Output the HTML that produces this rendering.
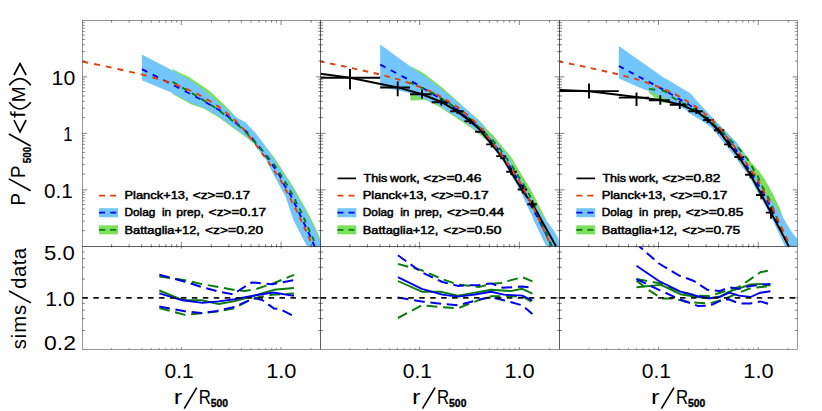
<!DOCTYPE html>
<html><head><meta charset="utf-8"><title>Pressure profiles</title>
<style>
html,body{margin:0;padding:0;background:#fff;}
body{width:822px;height:411px;overflow:hidden;}
svg{display:block;}
text{font-family:"Liberation Sans",sans-serif;fill:#000;}
.tk{font-size:20px;}
.ax{font-size:20px;letter-spacing:1.6px;}
.ax2{font-size:20px;letter-spacing:1.7px;}
.sub{font-size:10.5px;font-weight:bold;letter-spacing:-0.3px;}
.lg{font-size:11.3px;stroke:#000;stroke-width:0.5px;}
</style></head><body>
<svg width="822" height="411" viewBox="0 0 822 411">
<defs>
<clipPath id="cu0"><rect x="82.40" y="20.40" width="238.30" height="226.00"/></clipPath>
<clipPath id="cl0"><rect x="82.40" y="246.40" width="238.30" height="102.90"/></clipPath>
<clipPath id="cu1"><rect x="320.70" y="20.40" width="238.90" height="226.00"/></clipPath>
<clipPath id="cl1"><rect x="320.70" y="246.40" width="238.90" height="102.90"/></clipPath>
<clipPath id="cu2"><rect x="559.60" y="20.40" width="237.90" height="226.00"/></clipPath>
<clipPath id="cl2"><rect x="559.60" y="246.40" width="237.90" height="102.90"/></clipPath>
</defs>
<rect width="822" height="411" fill="#fff"/>
<g clip-path="url(#cu0)">
<polygon points="172.5,69.2 189.0,77.0 206.5,88.7 210.8,92.0 224.0,104.5 236.4,117.2 250.0,130.0 268.4,150.0 275.9,160.0 293.4,187.0 307.3,211.5 311.6,220.0 315.8,228.5 320.2,238.8 320.7,246.4 308.0,246.4 298.0,220.0 288.0,195.0 275.0,172.0 263.3,156.0 254.6,144.5 247.3,138.3 234.2,128.8 219.6,117.9 204.6,109.0 191.0,104.2 172.5,94.1" fill="#7be05c"/>
<polygon points="141.9,54.6 172.5,70.5 189.0,79.4 206.5,92.0 213.8,98.5 226.9,109.6 236.4,117.6 245.1,122.0 256.1,133.7 265.0,145.4 274.6,160.0 292.0,187.0 305.8,211.5 310.2,220.0 314.6,228.5 320.7,242.0 320.7,246.4 307.3,246.4 303.6,240.0 293.4,220.0 285.4,196.2 273.2,174.3 266.4,160.0 261.9,155.0 254.6,143.9 247.3,137.3 234.2,127.8 219.6,116.9 205.0,108.2 191.0,103.0 172.5,92.9 141.9,80.3" fill="#73c6fb"/>
<path d="M141.90,69.20L147.24,71.89M152.61,74.61L157.95,77.30M163.32,80.01L168.66,82.71M174.03,85.43L179.32,88.19M184.65,90.97L189.94,93.73M195.26,96.51L200.55,99.28M205.72,102.26L210.80,105.20L210.86,105.23M216.03,108.21L220.00,110.50L221.06,111.29M225.77,114.80L230.44,118.28M234.99,121.93L238.60,124.90L239.43,125.63M243.80,129.44L247.30,132.50L248.00,133.32M251.68,137.63L252.00,138.00L255.20,141.99M258.72,146.40L262.22,150.77M265.66,155.22L268.86,159.75M272.09,164.32L273.70,166.60L275.23,168.89M278.32,173.52L279.50,175.30L281.00,178.29M283.45,183.20L284.60,185.50L286.13,187.97M289.06,192.68L290.50,195.00L291.72,197.46M294.15,202.37L295.60,205.30L296.52,207.27M298.84,212.22L300.00,214.70L301.15,217.14M303.49,222.08L305.82,226.99M308.16,231.94L310.48,236.85M312.65,241.85L314.50,246.40" fill="none" stroke="#0000ee" stroke-width="1.9" stroke-linejoin="round"/>
<path d="M172.50,81.80L177.36,84.65M182.15,87.46L187.01,90.31M191.79,93.12L195.00,95.00L196.63,96.00M201.34,98.90L206.13,101.84M210.84,104.73L211.60,105.20L215.41,107.92M219.87,111.09L220.30,111.40L224.29,114.43M228.62,117.73L229.10,118.10L232.98,121.13M237.26,124.47L237.80,124.90L241.31,128.13M245.26,131.77L246.60,133.00L249.02,135.65M252.58,139.56L253.90,141.00L256.21,143.53M259.78,147.44L261.20,149.00L263.25,151.52M266.57,155.58L269.98,159.70M273.34,163.74L274.80,165.50L276.43,168.03M279.22,172.37L280.20,173.90L282.01,176.82M284.73,181.19L286.10,183.40L287.40,185.69M289.94,190.15L291.90,193.60L292.46,194.71M294.76,199.26L296.70,203.10L297.09,203.89M299.35,208.45L301.40,212.60L301.63,213.11M303.70,217.74L305.81,222.45M307.88,227.07L309.99,231.78M312.07,236.41L313.00,238.50L314.01,241.17M315.81,245.89L316.00,246.40" fill="none" stroke="#0a7d0a" stroke-width="1.9" stroke-linejoin="round"/>
<path d="M82.40,61.50L88.23,62.72M94.10,63.95L99.93,65.17M105.81,66.41L111.50,67.60L111.63,67.63M117.48,68.96L123.28,70.28M129.13,71.61L134.92,72.92M140.77,74.25L142.30,74.60L146.51,75.74M152.28,77.31L158.00,78.86M163.69,80.61L169.29,82.45M174.90,84.38L180.36,86.50M185.85,88.67L191.18,91.02M196.56,93.39L196.80,93.50L201.55,96.23M206.57,99.12L207.40,99.60L211.41,102.15M216.26,105.24L218.40,106.60L220.91,108.48M225.45,111.89L226.40,112.60L229.74,115.47M234.01,119.14L234.20,119.30L237.85,123.08M241.70,127.07L242.40,127.80L245.14,131.26M248.53,135.55L250.00,137.40L251.89,139.80M255.28,144.08L256.40,145.50L258.54,148.39M261.78,152.75L262.70,154.00L264.88,157.14M267.98,161.58L271.05,165.99M274.08,170.46L277.09,174.90M280.12,179.38L280.20,179.50L282.64,184.03M285.17,188.73L286.40,191.00L287.65,193.40M290.11,198.12L292.55,202.81M295.01,207.53L296.30,210.00L297.34,212.25M299.57,217.06L301.78,221.83M304.00,226.64L304.40,227.50L306.20,231.41M308.42,236.22L309.70,239.00L310.59,241.00M312.75,245.83L313.00,246.40" fill="none" stroke="#e0400a" stroke-width="1.9" stroke-linejoin="round"/>
</g>
<g clip-path="url(#cl0)">
<polyline points="159.3,290.5 179.2,298.6 185.0,300.2 201.5,300.2 218.8,304.0 234.7,301.1 250.0,297.0 273.8,289.8 294.0,288.0" fill="none" stroke="#0a7d0a" stroke-width="1.9" stroke-linejoin="round" stroke-linecap="butt"/>
<path d="M159.30,276.50L169.95,278.03M175.57,278.84L185.00,280.20L186.20,280.47M191.70,281.74L201.10,283.90L202.14,284.09M207.72,285.11L218.28,287.04M223.85,288.05L234.42,289.95M240.09,290.49L244.60,290.90L250.75,289.90M256.35,288.98L266.42,285.65M271.73,283.89L273.80,283.20L281.52,279.99M286.64,277.86L294.00,274.80" fill="none" stroke="#0a7d0a" stroke-width="2.0" stroke-linejoin="round"/>
<path d="M159.30,308.10L169.62,310.83M175.06,312.27L185.00,314.90L185.39,314.86M191.05,314.26L201.10,313.20L201.77,313.13M207.42,312.49L217.20,311.40L218.12,311.23M223.69,310.22L233.20,308.50L234.13,308.03M239.05,305.57L248.38,300.91M253.60,298.98L259.20,297.00L263.85,296.22M269.44,295.28L272.30,294.80L280.17,294.29M285.85,293.93L294.00,293.40" fill="none" stroke="#0a7d0a" stroke-width="2.0" stroke-linejoin="round"/>
<polyline points="159.3,293.3 182.5,300.3 202.5,302.9 218.6,301.4 234.7,299.2 250.5,296.1 273.3,292.5 294.0,295.9" fill="none" stroke="#0000ee" stroke-width="1.9" stroke-linejoin="round" stroke-linecap="butt"/>
<path d="M159.30,274.80L169.60,277.57M175.04,279.03L185.00,281.70L185.34,281.81M190.68,283.50L200.81,286.71M206.24,288.20L216.52,291.01M222.06,292.17L232.57,294.27M237.12,291.67L238.80,290.50L245.79,286.18M250.41,283.32L251.90,282.40L260.82,283.19M266.49,283.69L272.30,284.20L277.14,283.31M282.72,282.28L293.27,280.33" fill="none" stroke="#0000ee" stroke-width="2.0" stroke-linejoin="round"/>
<path d="M159.30,306.40L169.84,308.41M175.40,309.47L185.00,311.30L185.96,311.41M191.61,312.04L201.10,313.10L202.32,312.93M207.94,312.16L217.20,310.90L218.58,310.59M224.09,309.35L233.20,307.30L234.43,306.76M239.51,304.55L249.00,300.40L249.12,300.33M253.93,298.03L262.10,300.00L263.87,301.27M268.24,304.41L273.80,308.40L277.31,308.76M282.53,310.46L291.85,315.13" fill="none" stroke="#0000ee" stroke-width="2.0" stroke-linejoin="round"/>
</g>
<line x1="82.40" y1="297.85" x2="320.70" y2="297.85" stroke="#111" stroke-width="1.7" stroke-dasharray="5.5 5.45" stroke-dashoffset="0.0"/>
<g clip-path="url(#cu1)">
<polygon points="410.4,66.2 423.2,72.8 441.5,86.9 457.3,101.0 465.0,107.9 480.0,120.9 488.2,130.5 493.0,135.0 501.9,146.0 510.1,155.5 513.1,160.0 515.8,165.0 524.7,179.5 531.0,190.0 539.0,205.5 546.3,220.0 547.5,222.5 553.0,234.0 559.6,246.4 552.0,246.4 548.0,235.0 532.0,205.0 511.0,172.0 492.0,145.0 476.0,131.6 464.1,122.9 451.0,114.6 440.0,107.2 432.0,103.0 426.0,100.0 410.4,100.4" fill="#7be05c"/>
<polygon points="380.2,44.6 410.4,66.6 424.0,75.5 447.3,93.8 468.7,111.2 483.0,125.2 486.5,131.7 499.7,146.0 507.0,155.0 510.2,160.0 515.3,170.0 521.0,178.4 527.5,190.0 536.0,205.0 542.5,216.0 549.3,224.4 554.4,231.2 558.2,238.0 559.6,243.1 559.6,246.4 546.3,246.4 533.5,220.0 531.8,215.0 526.7,205.0 520.0,190.0 509.3,171.7 502.3,160.0 499.5,156.2 490.3,144.5 482.3,135.0 478.8,132.2 472.0,127.3 464.1,121.5 451.0,113.2 440.0,105.8 430.0,101.5 410.4,93.3 380.2,86.4" fill="#73c6fb"/>
<path d="M380.20,64.60L385.47,67.39M390.84,70.24L396.11,73.03M401.49,75.87L406.76,78.66M412.13,81.51L412.30,81.60L417.19,84.57M422.34,87.69L427.40,90.76M432.55,93.89L437.61,96.95M442.63,100.23L447.30,103.40L447.49,103.52M452.56,106.75L456.40,109.20L457.43,110.02M462.06,113.70L465.20,116.20L466.57,117.33M471.13,121.07L473.60,123.10L475.40,124.90M479.51,129.01L482.00,131.50L483.50,133.07M487.50,137.25L490.90,140.80L491.38,141.38M495.05,145.78L497.90,149.20L498.57,150.13M501.87,154.74L504.50,158.40L505.06,159.28M508.10,164.02L510.20,167.30L511.06,168.68M514.04,173.44L516.40,177.20L516.95,178.12M519.84,182.92L522.30,187.00L522.60,187.66M524.85,192.71L527.07,197.66M529.32,202.71L529.50,203.10L531.98,207.49M534.72,212.36L535.70,214.10L537.34,217.16M539.97,222.08L540.30,222.70L542.52,226.90M545.11,231.83L547.38,236.76M549.70,241.79L549.70,241.80L551.80,246.40" fill="none" stroke="#0000ee" stroke-width="1.9" stroke-linejoin="round"/>
<path d="M410.40,82.50L413.75,84.04M419.07,86.49L424.36,88.92M429.68,91.37L431.70,92.30L434.68,94.19M439.53,97.28L444.35,100.34M449.20,103.42L450.90,104.50L453.86,106.65M458.47,110.00L461.90,112.50L462.98,113.38M467.38,116.93L469.20,118.40L471.60,120.57M475.74,124.34L479.86,128.07M483.93,131.89L487.97,135.69M492.05,139.51L493.10,140.50L495.65,143.60M499.14,147.82L499.70,148.50L502.27,152.19M505.37,156.64L506.60,158.40L508.46,161.03M511.59,165.46L512.40,166.60L514.44,169.97M517.21,174.56L517.90,175.70L520.04,179.09M522.92,183.63L524.10,185.50L525.62,188.21M528.24,192.87L529.10,194.40L530.64,197.57M532.97,202.34L534.60,205.70L535.19,207.11M537.21,211.98L539.22,216.81M541.14,221.72L542.50,225.20L543.13,226.55M545.39,231.35L547.10,235.00L547.57,236.13M549.59,241.00L551.00,244.40L551.70,245.80" fill="none" stroke="#0a7d0a" stroke-width="1.9" stroke-linejoin="round"/>
<polyline points="320.7,73.8 350.0,77.7 397.7,87.4 422.0,94.2 442.2,102.3 457.2,111.4 469.2,120.5 482.4,131.7 484.0,135.0 492.0,144.5 501.2,156.2 504.0,160.0 511.0,171.7 521.9,190.0 532.4,204.2 538.6,215.0 541.2,220.0 547.1,230.3 556.1,246.4" fill="none" stroke="#000" stroke-width="2.0" stroke-linejoin="round" stroke-linecap="butt"/>
<line x1="320.70" y1="77.70" x2="380.20" y2="77.70" stroke="#000" stroke-width="1.9"/>
<line x1="350.00" y1="68.90" x2="350.00" y2="89.40" stroke="#000" stroke-width="1.9"/>
<line x1="380.20" y1="87.50" x2="410.00" y2="87.50" stroke="#000" stroke-width="1.9"/>
<line x1="397.70" y1="81.60" x2="397.70" y2="96.20" stroke="#000" stroke-width="1.9"/>
<line x1="410.00" y1="94.20" x2="431.70" y2="94.20" stroke="#000" stroke-width="1.9"/>
<line x1="422.00" y1="89.40" x2="422.00" y2="98.50" stroke="#000" stroke-width="1.9"/>
<line x1="431.70" y1="102.20" x2="449.60" y2="102.20" stroke="#000" stroke-width="1.9"/>
<line x1="441.30" y1="98.50" x2="441.30" y2="105.50" stroke="#000" stroke-width="1.9"/>
<line x1="450.20" y1="111.20" x2="463.70" y2="111.20" stroke="#000" stroke-width="1.9"/>
<line x1="457.40" y1="108.60" x2="457.40" y2="113.80" stroke="#000" stroke-width="1.9"/>
<line x1="464.50" y1="121.30" x2="475.10" y2="121.30" stroke="#000" stroke-width="1.9"/>
<line x1="470.30" y1="118.50" x2="470.30" y2="124.00" stroke="#000" stroke-width="1.9"/>
<line x1="475.10" y1="131.70" x2="485.00" y2="131.70" stroke="#000" stroke-width="1.9"/>
<line x1="482.40" y1="128.60" x2="482.40" y2="134.60" stroke="#000" stroke-width="1.9"/>
<line x1="486.20" y1="144.40" x2="494.50" y2="144.40" stroke="#000" stroke-width="1.9"/>
<line x1="491.70" y1="141.20" x2="491.70" y2="147.50" stroke="#000" stroke-width="1.9"/>
<line x1="496.20" y1="156.10" x2="505.90" y2="156.10" stroke="#000" stroke-width="1.9"/>
<line x1="501.20" y1="152.80" x2="501.20" y2="159.30" stroke="#000" stroke-width="1.9"/>
<line x1="506.20" y1="171.70" x2="516.80" y2="171.70" stroke="#000" stroke-width="1.9"/>
<line x1="511.30" y1="168.20" x2="511.30" y2="175.20" stroke="#000" stroke-width="1.9"/>
<line x1="517.70" y1="189.50" x2="527.20" y2="189.50" stroke="#000" stroke-width="1.9"/>
<line x1="522.90" y1="185.00" x2="522.90" y2="193.50" stroke="#000" stroke-width="1.9"/>
<line x1="527.30" y1="204.20" x2="536.80" y2="204.20" stroke="#000" stroke-width="1.9"/>
<line x1="532.40" y1="200.20" x2="532.40" y2="208.40" stroke="#000" stroke-width="1.9"/>
<path d="M320.70,61.50L324.56,62.31M330.05,63.46L335.49,64.60M340.98,65.75L346.42,66.89M351.89,68.08L357.30,69.31M362.76,70.55L368.18,71.78M373.64,73.02L379.05,74.25M384.45,75.65L389.79,77.09M395.18,78.55L398.30,79.40L400.47,80.11M405.74,81.84L410.97,83.56M416.13,85.52L421.23,87.50M426.30,89.62L431.28,91.82M436.22,94.15L440.87,96.82M445.56,99.52L445.70,99.60L450.05,102.37M454.58,105.25L454.88,105.44L456.70,106.60L459.21,108.48M463.75,111.89L464.70,112.60L468.04,115.47M472.31,119.14L472.50,119.30L476.15,123.08M480.00,127.07L480.70,127.80L483.44,131.26M486.83,135.55L488.30,137.40L490.19,139.80M493.58,144.08L494.70,145.50L496.84,148.39M500.08,152.75L501.00,154.00L503.18,157.14M506.28,161.58L509.35,165.99M512.38,170.46L515.39,174.90M518.42,179.38L518.50,179.50L520.94,184.03M523.47,188.73L524.70,191.00L525.95,193.40M528.41,198.12L530.85,202.81M533.31,207.53L534.60,210.00L535.64,212.25M537.87,217.06L540.08,221.83M542.30,226.64L542.70,227.50L544.50,231.41M546.72,236.22L548.00,239.00L548.89,241.00M551.05,245.83L551.30,246.40" fill="none" stroke="#e0400a" stroke-width="1.9" stroke-linejoin="round"/>
</g>
<g clip-path="url(#cl1)">
<polyline points="397.9,281.0 421.8,291.7 440.3,291.7 457.8,295.6 475.0,292.6 491.1,289.8 510.6,291.1 522.3,288.8 532.4,293.7" fill="none" stroke="#0a7d0a" stroke-width="1.9" stroke-linejoin="round" stroke-linecap="butt"/>
<path d="M397.90,263.90L408.21,266.66M413.65,268.12L421.80,270.30L423.81,271.16M428.91,273.35L438.56,277.49M443.70,279.59L453.70,283.07M459.07,284.64L469.78,285.82M475.43,286.45L479.50,286.90L485.91,285.24M491.37,283.87L500.90,283.00L502.06,282.68M507.49,281.18L517.76,278.35M523.14,277.46L532.40,281.40" fill="none" stroke="#0a7d0a" stroke-width="2.0" stroke-linejoin="round"/>
<path d="M397.90,318.00L407.07,313.13M411.91,310.55L421.08,305.68M426.63,305.77L437.36,306.82M443.02,307.35L453.79,308.04M459.33,307.71L469.17,303.90M474.36,301.89L479.50,299.90L484.33,298.36M489.67,296.66L491.10,296.20L500.38,296.20M506.08,296.20L516.88,296.20M522.52,296.34L531.30,301.72" fill="none" stroke="#0a7d0a" stroke-width="2.0" stroke-linejoin="round"/>
<polyline points="397.9,277.1 421.8,288.8 442.3,294.6 457.8,296.6 475.0,294.5 491.1,291.7 503.8,294.6 522.3,295.6 532.4,300.5" fill="none" stroke="#0000ee" stroke-width="1.9" stroke-linejoin="round" stroke-linecap="butt"/>
<path d="M397.90,255.30L406.20,261.20M410.58,264.32L418.88,270.23M423.47,273.09L432.92,277.56M437.90,279.92L442.30,282.00L447.84,283.39M453.31,284.77L457.80,285.90L463.91,285.62M469.60,285.36L479.50,284.90L480.38,284.79M486.01,284.06L491.10,283.40L496.27,285.35M501.49,287.31L502.80,287.80L512.14,287.18M517.83,286.80L522.30,286.50L528.54,287.30" fill="none" stroke="#0000ee" stroke-width="2.0" stroke-linejoin="round"/>
<path d="M397.90,297.60L408.52,299.29M414.12,300.18L421.80,301.40L424.76,301.78M430.40,302.49L441.08,303.85M446.74,304.37L457.49,305.27M462.95,303.92L473.25,301.17M478.69,299.72L479.50,299.50L489.15,297.42M494.63,297.91L504.70,300.50L504.97,300.57M510.41,302.06L520.69,304.86M525.11,307.75L532.40,314.10" fill="none" stroke="#0000ee" stroke-width="2.0" stroke-linejoin="round"/>
</g>
<line x1="320.70" y1="297.85" x2="559.60" y2="297.85" stroke="#111" stroke-width="1.7" stroke-dasharray="5.5 5.45" stroke-dashoffset="0.0"/>
<g clip-path="url(#cu2)">
<polygon points="648.9,88.0 680.0,98.0 700.0,108.0 720.0,126.0 737.0,143.0 749.4,160.0 753.2,164.5 760.2,172.8 764.8,179.2 772.7,193.6 780.3,209.5 783.4,218.4 790.0,232.0 797.4,246.4 789.0,246.4 780.0,230.0 771.0,213.0 761.5,195.0 751.0,175.0 744.0,165.0 729.5,144.5 719.0,131.5 708.0,121.0 690.0,111.5 674.0,103.8 661.3,102.3 655.3,97.9 648.9,92.8" fill="#7be05c"/>
<polygon points="618.8,46.0 663.9,77.7 668.1,80.0 690.2,93.2 696.0,100.0 711.3,116.2 724.5,130.0 737.3,143.6 747.2,160.0 747.9,163.0 757.0,178.0 766.0,193.2 772.7,201.7 781.4,215.0 783.4,218.4 788.8,227.1 792.1,232.5 797.6,239.1 797.6,246.4 785.0,246.4 784.7,245.8 773.4,221.8 762.0,199.5 758.3,194.0 748.5,174.9 740.7,165.0 735.6,157.2 725.4,144.5 716.2,133.3 711.3,127.5 701.1,120.4 691.5,114.5 684.3,108.9 674.0,103.4 668.1,99.6 648.9,91.0 640.0,87.7 618.8,78.6" fill="#73c6fb"/>
<path d="M618.80,66.00L623.73,68.61M628.70,71.23L633.63,73.84M638.60,76.47L643.53,79.07M648.50,81.70L650.20,82.60L653.41,84.33M658.35,87.00L660.40,88.10L663.24,89.67M668.14,92.38L668.90,92.80L672.85,95.28M677.55,98.23L678.30,98.70L682.45,100.89M687.39,103.54L691.77,106.79M696.19,110.05L700.61,113.26M704.91,116.63L709.01,120.14M713.03,123.76L716.73,127.57M720.46,131.41L722.00,133.00L723.94,135.37M727.28,139.47L729.60,142.30L730.62,143.52M734.03,147.57L736.40,150.40L737.30,151.66M740.33,155.93L742.80,159.40L743.19,160.23M745.71,164.72L748.56,169.04M751.43,173.39L752.50,175.00L754.16,177.76M756.84,182.19L759.50,186.60M762.07,191.08L764.57,195.55M767.04,200.08L769.32,204.64M771.61,209.23L772.00,210.00L773.79,213.82M775.96,218.45L778.12,223.06M780.29,227.69L782.45,232.29M784.62,236.92L785.60,239.00L786.76,241.53M788.90,246.18L789.00,246.40" fill="none" stroke="#0000ee" stroke-width="1.9" stroke-linejoin="round"/>
<path d="M648.90,88.90L655.23,89.72M661.57,90.53L662.10,90.60L665.50,91.50L667.13,92.89M671.70,96.73L674.00,98.30L676.79,100.04M682.12,103.05L687.98,105.24M693.40,108.06L698.28,111.60M703.13,115.18L706.00,117.30L707.82,118.90M712.29,122.82L715.00,125.20L716.73,126.76M721.14,130.73L724.10,133.40L725.43,134.79M729.48,139.04L732.20,141.90L733.54,143.26M737.68,147.45L739.80,149.60L741.60,151.77M745.30,156.24L747.50,158.90L748.64,160.89M751.48,165.80L752.80,168.10L754.35,170.69M757.28,175.56L757.90,176.60L759.68,180.62M761.96,185.75L762.60,187.20L764.53,190.75M767.22,195.72L769.00,199.00L769.76,200.74M772.00,205.87L773.80,210.00L774.19,211.01M776.21,216.21L778.23,221.40M780.25,226.60L780.60,227.50L782.57,231.70M784.96,236.78L786.00,239.00L787.28,241.88" fill="none" stroke="#0a7d0a" stroke-width="1.9" stroke-linejoin="round"/>
<polyline points="559.6,89.9 589.0,91.3 620.0,95.0 640.0,97.4 660.4,100.1 680.0,104.4 696.3,111.3 707.8,120.0 718.3,130.2 728.8,144.2 739.0,156.9 744.1,165.0 750.6,174.9 761.3,194.5 771.0,212.6 780.0,229.5 788.8,246.4" fill="none" stroke="#000" stroke-width="2.0" stroke-linejoin="round" stroke-linecap="butt"/>
<line x1="559.60" y1="91.10" x2="618.80" y2="91.10" stroke="#000" stroke-width="1.9"/>
<line x1="589.00" y1="83.50" x2="589.00" y2="98.50" stroke="#000" stroke-width="1.9"/>
<line x1="618.80" y1="97.60" x2="648.90" y2="97.60" stroke="#000" stroke-width="1.9"/>
<line x1="636.50" y1="92.60" x2="636.50" y2="105.90" stroke="#000" stroke-width="1.9"/>
<line x1="648.90" y1="100.20" x2="669.80" y2="100.20" stroke="#000" stroke-width="1.9"/>
<line x1="660.30" y1="95.30" x2="660.30" y2="104.70" stroke="#000" stroke-width="1.9"/>
<line x1="669.80" y1="104.70" x2="686.00" y2="104.70" stroke="#000" stroke-width="1.9"/>
<line x1="679.80" y1="100.90" x2="679.80" y2="108.90" stroke="#000" stroke-width="1.9"/>
<line x1="688.40" y1="111.20" x2="702.80" y2="111.20" stroke="#000" stroke-width="1.9"/>
<line x1="696.30" y1="107.20" x2="696.30" y2="114.00" stroke="#000" stroke-width="1.9"/>
<line x1="703.20" y1="120.00" x2="713.80" y2="120.00" stroke="#000" stroke-width="1.9"/>
<line x1="707.70" y1="117.00" x2="707.70" y2="123.00" stroke="#000" stroke-width="1.9"/>
<line x1="713.90" y1="130.30" x2="724.30" y2="130.30" stroke="#000" stroke-width="1.9"/>
<line x1="718.50" y1="127.30" x2="718.50" y2="133.50" stroke="#000" stroke-width="1.9"/>
<line x1="724.10" y1="144.40" x2="731.70" y2="144.40" stroke="#000" stroke-width="1.9"/>
<line x1="728.90" y1="141.30" x2="728.90" y2="147.50" stroke="#000" stroke-width="1.9"/>
<line x1="734.30" y1="157.00" x2="744.30" y2="157.00" stroke="#000" stroke-width="1.9"/>
<line x1="739.20" y1="153.70" x2="739.20" y2="160.30" stroke="#000" stroke-width="1.9"/>
<line x1="745.10" y1="174.70" x2="755.20" y2="174.70" stroke="#000" stroke-width="1.9"/>
<line x1="750.50" y1="171.20" x2="750.50" y2="178.20" stroke="#000" stroke-width="1.9"/>
<line x1="756.10" y1="195.00" x2="764.90" y2="195.00" stroke="#000" stroke-width="1.9"/>
<line x1="761.30" y1="190.80" x2="761.30" y2="199.20" stroke="#000" stroke-width="1.9"/>
<line x1="765.80" y1="212.60" x2="774.30" y2="212.60" stroke="#000" stroke-width="1.9"/>
<line x1="771.00" y1="207.20" x2="771.00" y2="218.80" stroke="#000" stroke-width="1.9"/>
<path d="M559.60,61.50L563.46,62.31M568.95,63.46L574.39,64.60M579.88,65.75L585.32,66.89M590.79,68.08L596.20,69.31M601.66,70.55L607.08,71.78M612.54,73.02L617.95,74.25M623.35,75.65L628.69,77.09M634.08,78.55L637.20,79.40L639.37,80.11M644.64,81.84L649.87,83.56M655.03,85.52L660.13,87.50M665.20,89.62L670.18,91.82M675.12,94.15L679.77,96.82M684.46,99.52L684.60,99.60L688.95,102.37M693.48,105.25L693.78,105.44L695.60,106.60L698.11,108.48M702.65,111.89L703.60,112.60L706.94,115.47M711.21,119.14L711.40,119.30L715.05,123.08M718.90,127.07L719.60,127.80L722.34,131.26M725.73,135.55L727.20,137.40L729.09,139.80M732.48,144.08L733.60,145.50L735.74,148.39M738.98,152.75L739.90,154.00L742.08,157.14M745.18,161.58L748.25,165.99M751.28,170.46L754.29,174.90M757.32,179.38L757.40,179.50L759.84,184.03M762.37,188.73L763.60,191.00L764.85,193.40M767.31,198.12L769.75,202.81M772.21,207.53L773.50,210.00L774.54,212.25M776.77,217.06L778.98,221.83M781.20,226.64L781.60,227.50L783.40,231.41M785.62,236.22L786.90,239.00L787.79,241.00M789.95,245.83L790.20,246.40" fill="none" stroke="#e0400a" stroke-width="1.9" stroke-linejoin="round"/>
</g>
<g clip-path="url(#cl2)">
<polyline points="636.5,287.2 660.9,284.9 680.3,294.2 697.8,297.0 709.6,298.5 720.0,296.5 729.2,291.7 750.6,284.5 760.3,283.9 770.4,285.5" fill="none" stroke="#0a7d0a" stroke-width="1.9" stroke-linejoin="round" stroke-linecap="butt"/>
<path d="M636.50,279.10L647.08,280.96M652.66,281.95L660.90,283.40L663.03,284.31M668.13,286.49L677.79,290.63M683.10,292.32L693.55,294.65M699.11,295.64L709.60,296.00L709.88,295.91M715.23,294.23L723.30,291.70L725.37,291.06M730.74,289.41L738.90,286.90L740.57,285.78M745.07,282.79L750.60,279.10L753.53,277.05M757.93,273.96L760.30,272.30L767.84,270.81" fill="none" stroke="#0a7d0a" stroke-width="2.0" stroke-linejoin="round"/>
<path d="M636.50,280.60L644.52,286.79M648.75,290.05L649.20,290.40L657.34,295.64M661.92,298.50L672.72,298.50M678.20,299.61L684.20,301.40L688.62,301.85M694.27,302.44L697.80,302.80L705.04,303.17M710.67,303.10L720.92,300.18M726.14,298.26L735.76,294.07M740.88,291.94L750.60,288.20L750.75,288.18M756.40,287.56L767.11,286.37" fill="none" stroke="#0a7d0a" stroke-width="2.0" stroke-linejoin="round"/>
<polyline points="636.5,265.8 658.9,281.0 680.3,291.7 697.8,296.2 709.6,298.1 720.0,297.0 729.2,292.7 738.9,295.6 750.6,297.0 760.3,292.7 770.4,291.3" fill="none" stroke="#0000ee" stroke-width="1.9" stroke-linejoin="round" stroke-linecap="butt"/>
<path d="M636.50,242.00L639.50,246.50L642.81,249.40M646.79,252.89L654.33,259.50M658.31,262.98L658.90,263.50L667.05,268.39M671.71,271.19L678.40,275.20L680.81,276.10M686.03,278.06L693.90,281.00L695.66,282.14M700.21,285.08L707.50,289.80L709.14,289.98M714.79,290.59L719.50,291.10L724.98,288.90M730.22,287.37L738.90,288.80L740.78,288.33M746.25,286.98L750.60,285.90L756.82,285.16M762.46,284.49L770.40,283.90" fill="none" stroke="#0000ee" stroke-width="2.0" stroke-linejoin="round"/>
<path d="M636.50,279.10L645.93,283.60M650.90,285.98L658.90,289.80L660.35,290.46M665.38,292.74L674.92,297.06M679.96,299.35L680.30,299.50L689.88,303.00M695.12,304.92L697.80,305.90L705.68,305.83M711.17,305.08L720.68,300.71M726.02,299.50L729.20,299.50L736.10,302.27M741.50,303.40L750.60,303.40L752.26,303.06M757.80,301.92L760.30,301.40L768.07,303.71" fill="none" stroke="#0000ee" stroke-width="2.0" stroke-linejoin="round"/>
</g>
<line x1="559.60" y1="297.85" x2="797.50" y2="297.85" stroke="#111" stroke-width="1.7" stroke-dasharray="5.5 5.45" stroke-dashoffset="0.0"/>
<rect x="82.40" y="20.40" width="238.30" height="226.00" fill="none" stroke="#1a1a1a" stroke-width="0.45"/>
<rect x="82.40" y="246.40" width="238.30" height="102.90" fill="none" stroke="#1a1a1a" stroke-width="0.45"/>
<rect x="320.70" y="20.40" width="238.90" height="226.00" fill="none" stroke="#1a1a1a" stroke-width="0.45"/>
<rect x="320.70" y="246.40" width="238.90" height="102.90" fill="none" stroke="#1a1a1a" stroke-width="0.45"/>
<rect x="559.60" y="20.40" width="237.90" height="226.00" fill="none" stroke="#1a1a1a" stroke-width="0.45"/>
<rect x="559.60" y="246.40" width="237.90" height="102.90" fill="none" stroke="#1a1a1a" stroke-width="0.45"/>
<path d="M111.60,20.40L111.60,22.70M111.60,246.40L111.60,244.10M111.60,246.40L111.60,247.46M111.60,349.30L111.60,348.24M129.16,20.40L129.16,22.70M129.16,246.40L129.16,244.10M129.16,246.40L129.16,247.46M129.16,349.30L129.16,348.24M141.63,20.40L141.63,22.70M141.63,246.40L141.63,244.10M141.63,246.40L141.63,247.46M141.63,349.30L141.63,348.24M151.29,20.40L151.29,22.70M151.29,246.40L151.29,244.10M151.29,246.40L151.29,247.46M151.29,349.30L151.29,348.24M159.19,20.40L159.19,22.70M159.19,246.40L159.19,244.10M159.19,246.40L159.19,247.46M159.19,349.30L159.19,348.24M165.87,20.40L165.87,22.70M165.87,246.40L165.87,244.10M165.87,246.40L165.87,247.46M165.87,349.30L165.87,348.24M171.66,20.40L171.66,22.70M171.66,246.40L171.66,244.10M171.66,246.40L171.66,247.46M171.66,349.30L171.66,348.24M176.76,20.40L176.76,22.70M176.76,246.40L176.76,244.10M176.76,246.40L176.76,247.46M176.76,349.30L176.76,348.24M181.32,20.40L181.32,25.00M181.32,246.40L181.32,241.80M181.32,246.40L181.32,248.52M181.32,349.30L181.32,347.18M211.35,20.40L211.35,22.70M211.35,246.40L211.35,244.10M211.35,246.40L211.35,247.46M211.35,349.30L211.35,348.24M228.91,20.40L228.91,22.70M228.91,246.40L228.91,244.10M228.91,246.40L228.91,247.46M228.91,349.30L228.91,348.24M241.38,20.40L241.38,22.70M241.38,246.40L241.38,244.10M241.38,246.40L241.38,247.46M241.38,349.30L241.38,348.24M251.04,20.40L251.04,22.70M251.04,246.40L251.04,244.10M251.04,246.40L251.04,247.46M251.04,349.30L251.04,348.24M258.94,20.40L258.94,22.70M258.94,246.40L258.94,244.10M258.94,246.40L258.94,247.46M258.94,349.30L258.94,348.24M265.62,20.40L265.62,22.70M265.62,246.40L265.62,244.10M265.62,246.40L265.62,247.46M265.62,349.30L265.62,348.24M271.41,20.40L271.41,22.70M271.41,246.40L271.41,244.10M271.41,246.40L271.41,247.46M271.41,349.30L271.41,348.24M276.51,20.40L276.51,22.70M276.51,246.40L276.51,244.10M276.51,246.40L276.51,247.46M276.51,349.30L276.51,348.24M281.07,20.40L281.07,25.00M281.07,246.40L281.07,241.80M281.07,246.40L281.07,248.52M281.07,349.30L281.07,347.18M311.10,20.40L311.10,22.70M311.10,246.40L311.10,244.10M311.10,246.40L311.10,247.46M311.10,349.30L311.10,348.24M82.40,230.65L84.80,230.65M320.70,230.65L318.30,230.65M82.40,221.14L84.80,221.14M320.70,221.14L318.30,221.14M82.40,214.30L84.80,214.30M320.70,214.30L318.30,214.30M82.40,208.95L84.80,208.95M320.70,208.95L318.30,208.95M82.40,204.57L84.80,204.57M320.70,204.57L318.30,204.57M82.40,200.85L84.80,200.85M320.70,200.85L318.30,200.85M82.40,197.62L84.80,197.62M320.70,197.62L318.30,197.62M82.40,194.77L84.80,194.77M320.70,194.77L318.30,194.77M82.40,192.21L84.80,192.21M320.70,192.21L318.30,192.21M82.40,189.90L87.20,189.90M320.70,189.90L315.90,189.90M82.40,174.15L84.80,174.15M320.70,174.15L318.30,174.15M82.40,164.64L84.80,164.64M320.70,164.64L318.30,164.64M82.40,157.80L84.80,157.80M320.70,157.80L318.30,157.80M82.40,152.45L84.80,152.45M320.70,152.45L318.30,152.45M82.40,148.07L84.80,148.07M320.70,148.07L318.30,148.07M82.40,144.35L84.80,144.35M320.70,144.35L318.30,144.35M82.40,141.12L84.80,141.12M320.70,141.12L318.30,141.12M82.40,138.27L84.80,138.27M320.70,138.27L318.30,138.27M82.40,135.71L84.80,135.71M320.70,135.71L318.30,135.71M82.40,133.40L87.20,133.40M320.70,133.40L315.90,133.40M82.40,117.65L84.80,117.65M320.70,117.65L318.30,117.65M82.40,108.14L84.80,108.14M320.70,108.14L318.30,108.14M82.40,101.30L84.80,101.30M320.70,101.30L318.30,101.30M82.40,95.95L84.80,95.95M320.70,95.95L318.30,95.95M82.40,91.57L84.80,91.57M320.70,91.57L318.30,91.57M82.40,87.85L84.80,87.85M320.70,87.85L318.30,87.85M82.40,84.62L84.80,84.62M320.70,84.62L318.30,84.62M82.40,81.77L84.80,81.77M320.70,81.77L318.30,81.77M82.40,79.21L84.80,79.21M320.70,79.21L318.30,79.21M82.40,76.90L87.20,76.90M320.70,76.90L315.90,76.90M82.40,61.15L84.80,61.15M320.70,61.15L318.30,61.15M82.40,51.64L84.80,51.64M320.70,51.64L318.30,51.64M82.40,44.80L84.80,44.80M320.70,44.80L318.30,44.80M82.40,39.45L84.80,39.45M320.70,39.45L318.30,39.45M82.40,35.07L84.80,35.07M320.70,35.07L318.30,35.07M82.40,31.35L84.80,31.35M320.70,31.35L318.30,31.35M82.40,28.12L84.80,28.12M320.70,28.12L318.30,28.12M82.40,25.27L84.80,25.27M320.70,25.27L318.30,25.27M82.40,22.71L84.80,22.71M320.70,22.71L318.30,22.71M82.40,252.00L84.80,252.00M320.70,252.00L318.30,252.00M82.40,258.60L84.80,258.60M320.70,258.60L318.30,258.60M82.40,267.30L84.80,267.30M320.70,267.30L318.30,267.30M82.40,279.10L84.80,279.10M320.70,279.10L318.30,279.10M82.40,297.85L87.20,297.85M320.70,297.85L315.90,297.85M82.40,303.40L84.80,303.40M320.70,303.40L318.30,303.40M82.40,310.20L84.80,310.20M320.70,310.20L318.30,310.20M82.40,318.60L84.80,318.60M320.70,318.60L318.30,318.60M82.40,330.50L84.80,330.50M320.70,330.50L318.30,330.50M349.90,20.40L349.90,22.70M349.90,246.40L349.90,244.10M349.90,246.40L349.90,247.46M349.90,349.30L349.90,348.24M367.46,20.40L367.46,22.70M367.46,246.40L367.46,244.10M367.46,246.40L367.46,247.46M367.46,349.30L367.46,348.24M379.93,20.40L379.93,22.70M379.93,246.40L379.93,244.10M379.93,246.40L379.93,247.46M379.93,349.30L379.93,348.24M389.59,20.40L389.59,22.70M389.59,246.40L389.59,244.10M389.59,246.40L389.59,247.46M389.59,349.30L389.59,348.24M397.49,20.40L397.49,22.70M397.49,246.40L397.49,244.10M397.49,246.40L397.49,247.46M397.49,349.30L397.49,348.24M404.17,20.40L404.17,22.70M404.17,246.40L404.17,244.10M404.17,246.40L404.17,247.46M404.17,349.30L404.17,348.24M409.96,20.40L409.96,22.70M409.96,246.40L409.96,244.10M409.96,246.40L409.96,247.46M409.96,349.30L409.96,348.24M415.06,20.40L415.06,22.70M415.06,246.40L415.06,244.10M415.06,246.40L415.06,247.46M415.06,349.30L415.06,348.24M419.62,20.40L419.62,25.00M419.62,246.40L419.62,241.80M419.62,246.40L419.62,248.52M419.62,349.30L419.62,347.18M449.65,20.40L449.65,22.70M449.65,246.40L449.65,244.10M449.65,246.40L449.65,247.46M449.65,349.30L449.65,348.24M467.21,20.40L467.21,22.70M467.21,246.40L467.21,244.10M467.21,246.40L467.21,247.46M467.21,349.30L467.21,348.24M479.68,20.40L479.68,22.70M479.68,246.40L479.68,244.10M479.68,246.40L479.68,247.46M479.68,349.30L479.68,348.24M489.34,20.40L489.34,22.70M489.34,246.40L489.34,244.10M489.34,246.40L489.34,247.46M489.34,349.30L489.34,348.24M497.24,20.40L497.24,22.70M497.24,246.40L497.24,244.10M497.24,246.40L497.24,247.46M497.24,349.30L497.24,348.24M503.92,20.40L503.92,22.70M503.92,246.40L503.92,244.10M503.92,246.40L503.92,247.46M503.92,349.30L503.92,348.24M509.71,20.40L509.71,22.70M509.71,246.40L509.71,244.10M509.71,246.40L509.71,247.46M509.71,349.30L509.71,348.24M514.81,20.40L514.81,22.70M514.81,246.40L514.81,244.10M514.81,246.40L514.81,247.46M514.81,349.30L514.81,348.24M519.37,20.40L519.37,25.00M519.37,246.40L519.37,241.80M519.37,246.40L519.37,248.52M519.37,349.30L519.37,347.18M549.40,20.40L549.40,22.70M549.40,246.40L549.40,244.10M549.40,246.40L549.40,247.46M549.40,349.30L549.40,348.24M320.70,230.65L323.10,230.65M559.60,230.65L557.20,230.65M320.70,221.14L323.10,221.14M559.60,221.14L557.20,221.14M320.70,214.30L323.10,214.30M559.60,214.30L557.20,214.30M320.70,208.95L323.10,208.95M559.60,208.95L557.20,208.95M320.70,204.57L323.10,204.57M559.60,204.57L557.20,204.57M320.70,200.85L323.10,200.85M559.60,200.85L557.20,200.85M320.70,197.62L323.10,197.62M559.60,197.62L557.20,197.62M320.70,194.77L323.10,194.77M559.60,194.77L557.20,194.77M320.70,192.21L323.10,192.21M559.60,192.21L557.20,192.21M320.70,189.90L325.50,189.90M559.60,189.90L554.80,189.90M320.70,174.15L323.10,174.15M559.60,174.15L557.20,174.15M320.70,164.64L323.10,164.64M559.60,164.64L557.20,164.64M320.70,157.80L323.10,157.80M559.60,157.80L557.20,157.80M320.70,152.45L323.10,152.45M559.60,152.45L557.20,152.45M320.70,148.07L323.10,148.07M559.60,148.07L557.20,148.07M320.70,144.35L323.10,144.35M559.60,144.35L557.20,144.35M320.70,141.12L323.10,141.12M559.60,141.12L557.20,141.12M320.70,138.27L323.10,138.27M559.60,138.27L557.20,138.27M320.70,135.71L323.10,135.71M559.60,135.71L557.20,135.71M320.70,133.40L325.50,133.40M559.60,133.40L554.80,133.40M320.70,117.65L323.10,117.65M559.60,117.65L557.20,117.65M320.70,108.14L323.10,108.14M559.60,108.14L557.20,108.14M320.70,101.30L323.10,101.30M559.60,101.30L557.20,101.30M320.70,95.95L323.10,95.95M559.60,95.95L557.20,95.95M320.70,91.57L323.10,91.57M559.60,91.57L557.20,91.57M320.70,87.85L323.10,87.85M559.60,87.85L557.20,87.85M320.70,84.62L323.10,84.62M559.60,84.62L557.20,84.62M320.70,81.77L323.10,81.77M559.60,81.77L557.20,81.77M320.70,79.21L323.10,79.21M559.60,79.21L557.20,79.21M320.70,76.90L325.50,76.90M559.60,76.90L554.80,76.90M320.70,61.15L323.10,61.15M559.60,61.15L557.20,61.15M320.70,51.64L323.10,51.64M559.60,51.64L557.20,51.64M320.70,44.80L323.10,44.80M559.60,44.80L557.20,44.80M320.70,39.45L323.10,39.45M559.60,39.45L557.20,39.45M320.70,35.07L323.10,35.07M559.60,35.07L557.20,35.07M320.70,31.35L323.10,31.35M559.60,31.35L557.20,31.35M320.70,28.12L323.10,28.12M559.60,28.12L557.20,28.12M320.70,25.27L323.10,25.27M559.60,25.27L557.20,25.27M320.70,22.71L323.10,22.71M559.60,22.71L557.20,22.71M320.70,252.00L323.10,252.00M559.60,252.00L557.20,252.00M320.70,258.60L323.10,258.60M559.60,258.60L557.20,258.60M320.70,267.30L323.10,267.30M559.60,267.30L557.20,267.30M320.70,279.10L323.10,279.10M559.60,279.10L557.20,279.10M320.70,297.85L325.50,297.85M559.60,297.85L554.80,297.85M320.70,303.40L323.10,303.40M559.60,303.40L557.20,303.40M320.70,310.20L323.10,310.20M559.60,310.20L557.20,310.20M320.70,318.60L323.10,318.60M559.60,318.60L557.20,318.60M320.70,330.50L323.10,330.50M559.60,330.50L557.20,330.50M588.80,20.40L588.80,22.70M588.80,246.40L588.80,244.10M588.80,246.40L588.80,247.46M588.80,349.30L588.80,348.24M606.36,20.40L606.36,22.70M606.36,246.40L606.36,244.10M606.36,246.40L606.36,247.46M606.36,349.30L606.36,348.24M618.83,20.40L618.83,22.70M618.83,246.40L618.83,244.10M618.83,246.40L618.83,247.46M618.83,349.30L618.83,348.24M628.49,20.40L628.49,22.70M628.49,246.40L628.49,244.10M628.49,246.40L628.49,247.46M628.49,349.30L628.49,348.24M636.39,20.40L636.39,22.70M636.39,246.40L636.39,244.10M636.39,246.40L636.39,247.46M636.39,349.30L636.39,348.24M643.07,20.40L643.07,22.70M643.07,246.40L643.07,244.10M643.07,246.40L643.07,247.46M643.07,349.30L643.07,348.24M648.86,20.40L648.86,22.70M648.86,246.40L648.86,244.10M648.86,246.40L648.86,247.46M648.86,349.30L648.86,348.24M653.96,20.40L653.96,22.70M653.96,246.40L653.96,244.10M653.96,246.40L653.96,247.46M653.96,349.30L653.96,348.24M658.52,20.40L658.52,25.00M658.52,246.40L658.52,241.80M658.52,246.40L658.52,248.52M658.52,349.30L658.52,347.18M688.55,20.40L688.55,22.70M688.55,246.40L688.55,244.10M688.55,246.40L688.55,247.46M688.55,349.30L688.55,348.24M706.11,20.40L706.11,22.70M706.11,246.40L706.11,244.10M706.11,246.40L706.11,247.46M706.11,349.30L706.11,348.24M718.58,20.40L718.58,22.70M718.58,246.40L718.58,244.10M718.58,246.40L718.58,247.46M718.58,349.30L718.58,348.24M728.24,20.40L728.24,22.70M728.24,246.40L728.24,244.10M728.24,246.40L728.24,247.46M728.24,349.30L728.24,348.24M736.14,20.40L736.14,22.70M736.14,246.40L736.14,244.10M736.14,246.40L736.14,247.46M736.14,349.30L736.14,348.24M742.82,20.40L742.82,22.70M742.82,246.40L742.82,244.10M742.82,246.40L742.82,247.46M742.82,349.30L742.82,348.24M748.61,20.40L748.61,22.70M748.61,246.40L748.61,244.10M748.61,246.40L748.61,247.46M748.61,349.30L748.61,348.24M753.71,20.40L753.71,22.70M753.71,246.40L753.71,244.10M753.71,246.40L753.71,247.46M753.71,349.30L753.71,348.24M758.27,20.40L758.27,25.00M758.27,246.40L758.27,241.80M758.27,246.40L758.27,248.52M758.27,349.30L758.27,347.18M788.30,20.40L788.30,22.70M788.30,246.40L788.30,244.10M788.30,246.40L788.30,247.46M788.30,349.30L788.30,348.24M559.60,230.65L562.00,230.65M797.50,230.65L795.10,230.65M559.60,221.14L562.00,221.14M797.50,221.14L795.10,221.14M559.60,214.30L562.00,214.30M797.50,214.30L795.10,214.30M559.60,208.95L562.00,208.95M797.50,208.95L795.10,208.95M559.60,204.57L562.00,204.57M797.50,204.57L795.10,204.57M559.60,200.85L562.00,200.85M797.50,200.85L795.10,200.85M559.60,197.62L562.00,197.62M797.50,197.62L795.10,197.62M559.60,194.77L562.00,194.77M797.50,194.77L795.10,194.77M559.60,192.21L562.00,192.21M797.50,192.21L795.10,192.21M559.60,189.90L564.40,189.90M797.50,189.90L792.70,189.90M559.60,174.15L562.00,174.15M797.50,174.15L795.10,174.15M559.60,164.64L562.00,164.64M797.50,164.64L795.10,164.64M559.60,157.80L562.00,157.80M797.50,157.80L795.10,157.80M559.60,152.45L562.00,152.45M797.50,152.45L795.10,152.45M559.60,148.07L562.00,148.07M797.50,148.07L795.10,148.07M559.60,144.35L562.00,144.35M797.50,144.35L795.10,144.35M559.60,141.12L562.00,141.12M797.50,141.12L795.10,141.12M559.60,138.27L562.00,138.27M797.50,138.27L795.10,138.27M559.60,135.71L562.00,135.71M797.50,135.71L795.10,135.71M559.60,133.40L564.40,133.40M797.50,133.40L792.70,133.40M559.60,117.65L562.00,117.65M797.50,117.65L795.10,117.65M559.60,108.14L562.00,108.14M797.50,108.14L795.10,108.14M559.60,101.30L562.00,101.30M797.50,101.30L795.10,101.30M559.60,95.95L562.00,95.95M797.50,95.95L795.10,95.95M559.60,91.57L562.00,91.57M797.50,91.57L795.10,91.57M559.60,87.85L562.00,87.85M797.50,87.85L795.10,87.85M559.60,84.62L562.00,84.62M797.50,84.62L795.10,84.62M559.60,81.77L562.00,81.77M797.50,81.77L795.10,81.77M559.60,79.21L562.00,79.21M797.50,79.21L795.10,79.21M559.60,76.90L564.40,76.90M797.50,76.90L792.70,76.90M559.60,61.15L562.00,61.15M797.50,61.15L795.10,61.15M559.60,51.64L562.00,51.64M797.50,51.64L795.10,51.64M559.60,44.80L562.00,44.80M797.50,44.80L795.10,44.80M559.60,39.45L562.00,39.45M797.50,39.45L795.10,39.45M559.60,35.07L562.00,35.07M797.50,35.07L795.10,35.07M559.60,31.35L562.00,31.35M797.50,31.35L795.10,31.35M559.60,28.12L562.00,28.12M797.50,28.12L795.10,28.12M559.60,25.27L562.00,25.27M797.50,25.27L795.10,25.27M559.60,22.71L562.00,22.71M797.50,22.71L795.10,22.71M559.60,252.00L562.00,252.00M797.50,252.00L795.10,252.00M559.60,258.60L562.00,258.60M797.50,258.60L795.10,258.60M559.60,267.30L562.00,267.30M797.50,267.30L795.10,267.30M559.60,279.10L562.00,279.10M797.50,279.10L795.10,279.10M559.60,297.85L564.40,297.85M797.50,297.85L792.70,297.85M559.60,303.40L562.00,303.40M797.50,303.40L795.10,303.40M559.60,310.20L562.00,310.20M797.50,310.20L795.10,310.20M559.60,318.60L562.00,318.60M797.50,318.60L795.10,318.60M559.60,330.50L562.00,330.50M797.50,330.50L795.10,330.50" fill="none" stroke="#1a1a1a" stroke-width="0.55"/>
<line x1="99.10" y1="195.55" x2="116.60" y2="195.55" stroke="#e0400a" stroke-width="1.8" stroke-dasharray="6.0 5.1"/>
<text transform="translate(124.44,199.25) scale(1.1422,1)" class="lg">Planck+13,</text>
<text transform="translate(192.72,199.25) scale(1.2134,1)" class="lg">&lt;z&gt;=0.17</text>
<rect x="99.10" y="208.20" width="18.9" height="9.0" fill="#73c6fb"/>
<line x1="99.10" y1="212.70" x2="116.60" y2="212.70" stroke="#0000ee" stroke-width="1.8" stroke-dasharray="6.0 5.1"/>
<text transform="translate(124.53,216.40) scale(1.0442,1)" class="lg">Dolag</text>
<text transform="translate(161.90,216.40) scale(1.0540,1)" class="lg">in</text>
<text transform="translate(176.22,216.40) scale(1.0744,1)" class="lg">prep,</text>
<text transform="translate(208.62,216.40) scale(1.2156,1)" class="lg">&lt;z&gt;=0.17</text>
<rect x="99.10" y="225.35" width="18.9" height="9.0" fill="#7be05c"/>
<line x1="99.10" y1="229.85" x2="116.60" y2="229.85" stroke="#0a7d0a" stroke-width="1.8" stroke-dasharray="6.0 5.1"/>
<text transform="translate(124.44,233.55) scale(1.1393,1)" class="lg">Battaglia+12,</text>
<text transform="translate(205.02,233.55) scale(1.2252,1)" class="lg">&lt;z&gt;=0.20</text>
<line x1="337.50" y1="178.40" x2="356.10" y2="178.40" stroke="#000" stroke-width="1.7"/>
<text transform="translate(363.52,182.10) scale(1.1119,1)" class="lg">This</text>
<text transform="translate(390.12,182.10) scale(1.0924,1)" class="lg">work,</text>
<text transform="translate(423.32,182.10) scale(1.2267,1)" class="lg">&lt;z&gt;=0.46</text>
<line x1="337.40" y1="195.55" x2="354.90" y2="195.55" stroke="#e0400a" stroke-width="1.8" stroke-dasharray="6.0 5.1"/>
<text transform="translate(362.74,199.25) scale(1.1422,1)" class="lg">Planck+13,</text>
<text transform="translate(431.02,199.25) scale(1.2134,1)" class="lg">&lt;z&gt;=0.17</text>
<rect x="337.40" y="208.20" width="18.9" height="9.0" fill="#73c6fb"/>
<line x1="337.40" y1="212.70" x2="354.90" y2="212.70" stroke="#0000ee" stroke-width="1.8" stroke-dasharray="6.0 5.1"/>
<text transform="translate(362.83,216.40) scale(1.0442,1)" class="lg">Dolag</text>
<text transform="translate(400.20,216.40) scale(1.0540,1)" class="lg">in</text>
<text transform="translate(414.52,216.40) scale(1.0744,1)" class="lg">prep,</text>
<text transform="translate(446.93,216.40) scale(1.2094,1)" class="lg">&lt;z&gt;=0.44</text>
<rect x="337.40" y="225.35" width="18.9" height="9.0" fill="#7be05c"/>
<line x1="337.40" y1="229.85" x2="354.90" y2="229.85" stroke="#0a7d0a" stroke-width="1.8" stroke-dasharray="6.0 5.1"/>
<text transform="translate(362.74,233.55) scale(1.1393,1)" class="lg">Battaglia+12,</text>
<text transform="translate(443.32,233.55) scale(1.2252,1)" class="lg">&lt;z&gt;=0.50</text>
<line x1="576.40" y1="178.40" x2="595.00" y2="178.40" stroke="#000" stroke-width="1.7"/>
<text transform="translate(602.42,182.10) scale(1.1119,1)" class="lg">This</text>
<text transform="translate(629.02,182.10) scale(1.0924,1)" class="lg">work,</text>
<text transform="translate(662.22,182.10) scale(1.2286,1)" class="lg">&lt;z&gt;=0.82</text>
<line x1="576.30" y1="195.55" x2="593.80" y2="195.55" stroke="#e0400a" stroke-width="1.8" stroke-dasharray="6.0 5.1"/>
<text transform="translate(601.64,199.25) scale(1.1422,1)" class="lg">Planck+13,</text>
<text transform="translate(669.92,199.25) scale(1.2134,1)" class="lg">&lt;z&gt;=0.17</text>
<rect x="576.30" y="208.20" width="18.9" height="9.0" fill="#73c6fb"/>
<line x1="576.30" y1="212.70" x2="593.80" y2="212.70" stroke="#0000ee" stroke-width="1.8" stroke-dasharray="6.0 5.1"/>
<text transform="translate(601.73,216.40) scale(1.0442,1)" class="lg">Dolag</text>
<text transform="translate(639.10,216.40) scale(1.0540,1)" class="lg">in</text>
<text transform="translate(653.42,216.40) scale(1.0744,1)" class="lg">prep,</text>
<text transform="translate(685.82,216.40) scale(1.2131,1)" class="lg">&lt;z&gt;=0.85</text>
<rect x="576.30" y="225.35" width="18.9" height="9.0" fill="#7be05c"/>
<line x1="576.30" y1="229.85" x2="593.80" y2="229.85" stroke="#0a7d0a" stroke-width="1.8" stroke-dasharray="6.0 5.1"/>
<text transform="translate(601.64,233.55) scale(1.1393,1)" class="lg">Battaglia+12,</text>
<text transform="translate(682.22,233.55) scale(1.2261,1)" class="lg">&lt;z&gt;=0.75</text>
<text transform="translate(51.58,84.90) scale(1.0631,1)" font-size="20.00">10</text>
<text transform="translate(63.13,141.00) scale(0.8350,1)" font-size="20.00">1</text>
<text transform="translate(44.09,197.80) scale(1.0328,1)" font-size="20.00">0.1</text>
<text transform="translate(44.01,260.40) scale(1.1060,1)" font-size="20.00">5.0</text>
<text transform="translate(45.29,305.50) scale(1.0589,1)" font-size="20.00">1.0</text>
<text transform="translate(44.00,349.80) scale(1.1493,1)" font-size="20.00">0.2</text>
<text transform="translate(164.48,378.30) scale(1.0520,1)" font-size="20.00">0.1</text>
<text transform="translate(266.14,378.30) scale(1.0903,1)" font-size="20.00">1.0</text>
<text transform="translate(173.70,403.80) scale(1.2673,1)" font-size="20.20">r</text>
<line x1="184.20" y1="408.60" x2="196.80" y2="387.60" stroke="#000" stroke-width="1.65"/>
<text transform="translate(198.82,403.80) scale(0.8338,1)" font-size="20.20">R</text>
<text transform="translate(210.78,406.60) scale(0.9808,1)" font-size="10.60" font-weight="bold" stroke="#000" stroke-width="0.35">500</text>
<text transform="translate(402.78,378.30) scale(1.0520,1)" font-size="20.00">0.1</text>
<text transform="translate(504.44,378.30) scale(1.0903,1)" font-size="20.00">1.0</text>
<text transform="translate(412.00,403.80) scale(1.2673,1)" font-size="20.20">r</text>
<line x1="422.50" y1="408.60" x2="435.10" y2="387.60" stroke="#000" stroke-width="1.65"/>
<text transform="translate(437.12,403.80) scale(0.8338,1)" font-size="20.20">R</text>
<text transform="translate(449.08,406.60) scale(0.9808,1)" font-size="10.60" font-weight="bold" stroke="#000" stroke-width="0.35">500</text>
<text transform="translate(641.68,378.30) scale(1.0520,1)" font-size="20.00">0.1</text>
<text transform="translate(743.34,378.30) scale(1.0903,1)" font-size="20.00">1.0</text>
<text transform="translate(650.90,403.80) scale(1.2673,1)" font-size="20.20">r</text>
<line x1="661.40" y1="408.60" x2="674.00" y2="387.60" stroke="#000" stroke-width="1.65"/>
<text transform="translate(676.02,403.80) scale(0.8338,1)" font-size="20.20">R</text>
<text transform="translate(687.98,406.60) scale(0.9808,1)" font-size="10.60" font-weight="bold" stroke="#000" stroke-width="0.35">500</text>
<g transform="translate(25.3,204.1) rotate(-90)">
<text transform="translate(-1.34,0.00) scale(0.8947,1)" font-size="21.00">P</text>
<line x1="13.30" y1="5.40" x2="25.20" y2="-16.50" stroke="#000" stroke-width="1.65"/>
<text transform="translate(26.06,0.00) scale(0.8947,1)" font-size="21.00">P</text>
<text transform="translate(40.90,5.20) scale(0.8646,1)" font-size="11.30" font-weight="bold" stroke="#000" stroke-width="0.35">500</text>
<line x1="58.10" y1="5.40" x2="70.10" y2="-16.50" stroke="#000" stroke-width="1.65"/>
<polyline points="84.1,-11.3 72.2,-5.3 84.1,0.8" fill="none" stroke="#000" stroke-width="1.65" stroke-linejoin="miter"/>
<text transform="translate(86.06,0.00) scale(1.2316,1)" font-size="19.60">f</text>
<path d="M101.8,-16.1 Q88.4,-5.3 101.8,5.5" fill="none" stroke="#000" stroke-width="1.65"/>
<text transform="translate(101.74,0.00) scale(1.0207,1)" font-size="18.60">M</text>
<path d="M118.8,-16.1 Q132.2,-5.3 118.8,5.5" fill="none" stroke="#000" stroke-width="1.65"/>
<polyline points="129.1,-11.3 140.6,-5.3 129.1,0.8" fill="none" stroke="#000" stroke-width="1.65" stroke-linejoin="miter"/>
</g>
<g transform="translate(26.2,349.3) rotate(-90)">
<text x="-0.07" y="0" font-size="20.2" letter-spacing="1.03">sims</text>
<line x1="46.45" y1="4.70" x2="58.35" y2="-17.20" stroke="#000" stroke-width="1.65"/>
<text x="60.55" y="0" font-size="20.2" letter-spacing="0.47">data</text>
</g>
</svg>
</body></html>
